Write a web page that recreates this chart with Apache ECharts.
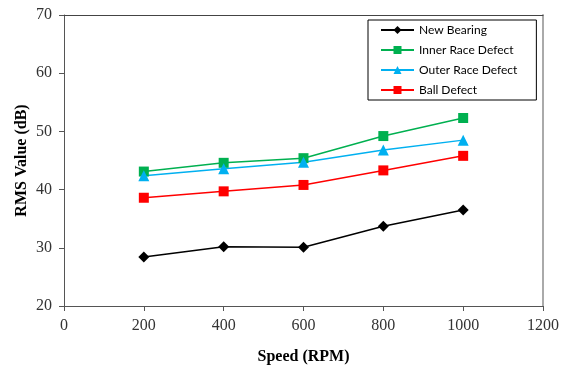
<!DOCTYPE html>
<html><head><meta charset="utf-8">
<script src="https://cdn.jsdelivr.net/npm/echarts@6/dist/echarts.min.js"></script>
<style>html,body{margin:0;padding:0;background:#fff}#c{width:561px;height:365px}</style>
</head><body><div id="c"></div>
<script>
const speeds = [200, 400, 600, 800, 1000];
const newBearing = [28.4, 30.2, 30.1, 33.7, 36.5];
const innerRace = [43.1, 44.6, 45.4, 49.2, 52.3];
const outerRace = [42.4, 43.6, 44.7, 46.8, 48.5];
const ballDefect = [38.6, 39.7, 40.8, 43.3, 45.8];
const xTicks = [0, 200, 400, 600, 800, 1000, 1200];
const yTicks = [20, 30, 40, 50, 60, 70];

const pair = arr => speeds.map((s, i) => [s, arr[i]]);
const chart = echarts.init(document.getElementById('c'), null, {renderer: 'canvas'});
const serif = '"Liberation Serif", "Times New Roman", serif';
const mk = (name, data, color, symbol, size) => ({
  name, type: 'line', data: pair(data), symbol, symbolSize: size,
  itemStyle: {color}, lineStyle: {color, width: 1.5}, showSymbol: true, animation: false
});
chart.setOption({
  animation: false,
  grid: {left: 64, right: 18, top: 15, bottom: 59, containLabel: false, outerBoundsMode: 'none'},
  legend: {
    orient: 'vertical', left: 368, top: 20, padding: [4, 19, 4, 12],
    borderColor: '#000', borderWidth: 1, itemGap: 8, itemWidth: 33, itemHeight: 10,
    textStyle: {fontFamily: 'Lato, "Open Sans", sans-serif', fontSize: 12, color: '#000'},
    data: ['New Bearing', 'Inner Race Defect', 'Outer Race Defect', 'Ball Defect']
  },
  xAxis: [{
    type: 'value', min: 0, max: 1200, interval: 200,
    name: 'Speed (RPM)', nameLocation: 'middle', nameGap: 43, nameMoveOverlap: false,
    nameTextStyle: {fontFamily: serif, fontSize: 16, fontWeight: 'bold', color: '#000'},
    axisLine: {show: true, onZero: false, lineStyle: {color: '#555', width: 1}},
    axisTick: {show: true, length: 5, inside: false, lineStyle: {color: '#555'}},
    axisLabel: {fontFamily: serif, fontSize: 16, color: '#333', margin: 12,
      formatter: v => xTicks.includes(v) ? String(v) : ''},
    splitLine: {show: false}
  }, {
    type: 'value', min: 0, max: 1200, position: 'top',
    axisLine: {show: true, onZero: false, lineStyle: {color: '#444', width: 1}},
    axisTick: {show: false}, axisLabel: {show: false}, splitLine: {show: false}
  }],
  yAxis: [{
    type: 'value', min: 20, max: 70, interval: 10,
    name: 'RMS Value (dB)', nameLocation: 'middle', nameGap: 34, nameMoveOverlap: false,
    nameTextStyle: {fontFamily: serif, fontSize: 16, fontWeight: 'bold', color: '#000'},
    axisLine: {show: true, onZero: false, lineStyle: {color: '#555', width: 1}},
    axisTick: {show: true, length: 5, inside: false, lineStyle: {color: '#555'}},
    axisLabel: {fontFamily: serif, fontSize: 16, color: '#333', margin: 12,
      formatter: v => yTicks.includes(v) ? String(v) : ''},
    splitLine: {show: false}
  }, {
    type: 'value', min: 20, max: 70, interval: 50, position: 'right',
    axisLine: {show: true, onZero: false, lineStyle: {color: '#aaa', width: 2}},
    axisTick: {show: true, inside: true, length: 0}, axisLabel: {show: false}, splitLine: {show: false}
  }],
  series: [
    mk('New Bearing', newBearing, '#000000', 'diamond', 11),
    mk('Inner Race Defect', innerRace, '#00b050', 'rect', 10),
    mk('Outer Race Defect', outerRace, '#00b0f0', 'triangle', 11),
    mk('Ball Defect', ballDefect, '#ff0000', 'rect', 10)
  ]
});
</script></body></html>
